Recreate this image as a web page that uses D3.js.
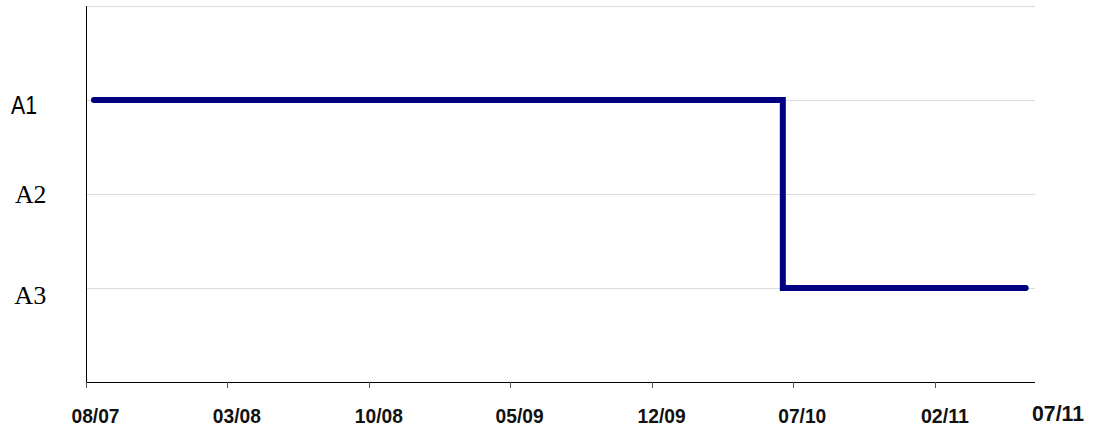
<!DOCTYPE html>
<html>
<head>
<meta charset="utf-8">
<script src="https://cdn.jsdelivr.net/npm/d3@7/dist/d3.min.js"></script>
<style>
  html, body { margin: 0; padding: 0; background: #fff; }
  svg { display: block; }
</style>
</head>
<body>
<svg id="chart" width="1094" height="431"></svg>
<script>
// ---- data ----
const categories = ["A1", "A2", "A3"];
const stepDates = ["2007-08-13", "2010-06-16", "2011-06-17"];
const stepValues = ["A1", "A3", "A3"];
const tickDates = ["2007-08-01", "2008-03-01", "2008-10-01", "2009-05-01", "2009-12-01", "2010-07-01", "2011-02-01"];
const tickLabels = ["08/07", "03/08", "10/08", "05/09", "12/09", "07/10", "02/11"];
const domainDates = ["2007-08-01", "2011-07-01"];
const endLabel = "07/11";

// ---- layout ----
const plotLeft = 86, plotRight = 1035, plotTop = 6, plotBottom = 382;
const parse = d3.utcParse("%Y-%m-%d");
const svg = d3.select("#chart");

const x = d3.scaleUtc().domain(domainDates.map(parse)).range([plotLeft, plotRight]);
const y = d3.scalePoint().domain(categories).range([plotTop, plotBottom]).padding(1);

// gridlines (top edge + each category)
const gridYs = [plotTop].concat(categories.map(c => y(c)));
svg.append("g").selectAll("line").data(gridYs).join("line")
  .attr("x1", plotLeft).attr("x2", plotRight)
  .attr("y1", d => d + 0.5).attr("y2", d => d + 0.5)
  .attr("stroke", "#dcdcdc").attr("stroke-width", 1);

// axes lines
svg.append("line").attr("x1", plotLeft + 0.5).attr("x2", plotLeft + 0.5)
  .attr("y1", plotTop).attr("y2", plotBottom + 0.5).attr("stroke", "#000");
svg.append("line").attr("x1", plotLeft).attr("x2", plotRight)
  .attr("y1", plotBottom + 0.5).attr("y2", plotBottom + 0.5).attr("stroke", "#000");

// x ticks
const ticks = tickDates.map((d, i) => ({ date: parse(d), label: tickLabels[i] }));
svg.append("g").selectAll("line").data(ticks).join("line")
  .attr("x1", d => Math.round(x(d.date)) + 0.5).attr("x2", d => Math.round(x(d.date)) + 0.5)
  .attr("y1", plotBottom).attr("y2", plotBottom + 6)
  .attr("stroke", "#555").attr("stroke-width", 1);

svg.append("g").selectAll("text").data(ticks).join("text")
  .attr("x", d => x(d.date) + 9.5)
  .attr("y", 422.5)
  .attr("text-anchor", "middle")
  .attr("font-family", "'Liberation Sans', Arial, sans-serif")
  .attr("font-weight", "bold")
  .attr("font-size", 21)
  .attr("textLength", 48)
  .attr("lengthAdjust", "spacingAndGlyphs")
  .attr("fill", "#111")
  .text(d => d.label);

svg.append("text")
  .attr("x", plotRight - 3)
  .attr("y", 421)
  .attr("font-family", "'Liberation Sans', Arial, sans-serif")
  .attr("font-weight", "bold")
  .attr("font-size", 22)
  .attr("textLength", 52)
  .attr("lengthAdjust", "spacingAndGlyphs")
  .attr("fill", "#111")
  .text(endLabel);

// y labels (each rendered in its own face as in the original)
const yLabelStyle = {
  A1: { x: 11, dy: 14, family: "'Liberation Sans', Arial, sans-serif", size: 25, len: 26 },
  A2: { x: 15, dy: 8.7, family: "'Liberation Serif', 'Times New Roman', serif", size: 25, len: 31.5 },
  A3: { x: 14.3, dy: 16.3, family: "'Liberation Serif', 'Times New Roman', serif", size: 25, len: 32 }
};
svg.append("g").selectAll("text").data(categories).join("text")
  .attr("x", d => yLabelStyle[d].x)
  .attr("y", d => y(d) + yLabelStyle[d].dy)
  .attr("font-family", d => yLabelStyle[d].family)
  .attr("font-size", d => yLabelStyle[d].size)
  .attr("textLength", d => yLabelStyle[d].len)
  .attr("lengthAdjust", "spacingAndGlyphs")
  .attr("fill", "#000")
  .text(d => d);

// step line
const pts = stepDates.map((d, i) => [x(parse(d)), y(stepValues[i])]);
const line = d3.line().curve(d3.curveStepAfter);
svg.append("path")
  .attr("d", line(pts))
  .attr("fill", "none")
  .attr("stroke", "#000080")
  .attr("stroke-width", 6)
  .attr("stroke-linecap", "round")
  .attr("stroke-linejoin", "miter");
</script>
</body>
</html>
